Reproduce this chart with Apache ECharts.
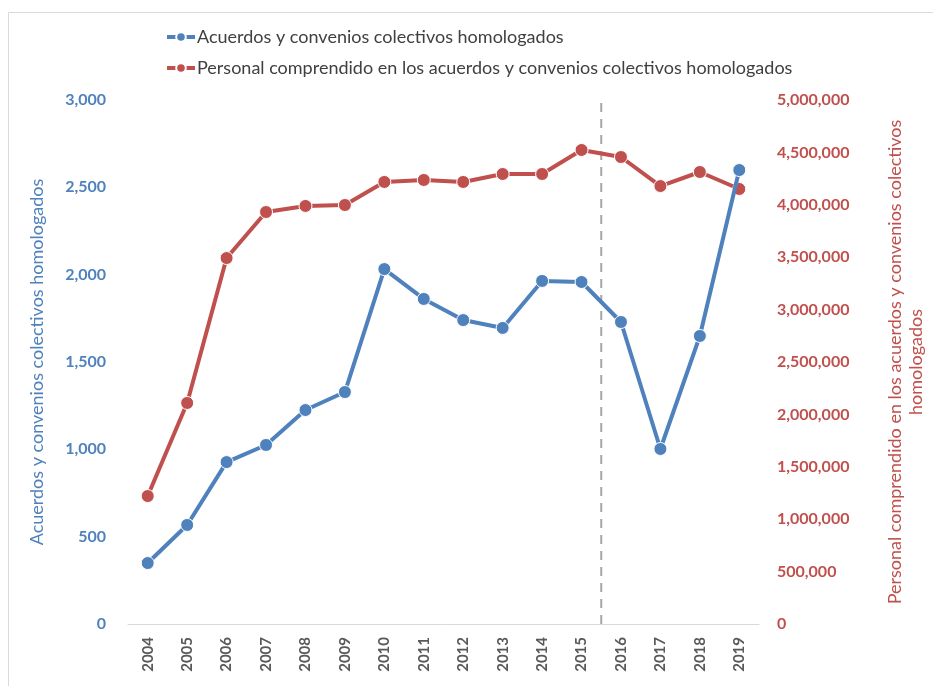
<!DOCTYPE html>
<html>
<head>
<meta charset="utf-8">
<script src="https://cdn.jsdelivr.net/npm/echarts@6/dist/echarts.min.js"></script>
<style>html,body{margin:0;padding:0;background:#fff;overflow:hidden;}#c{width:933px;height:686px;}</style>
</head>
<body>
<div id="c"></div>
<script>
const years = ['2004','2005','2006','2007','2008','2009','2010','2011','2012','2013','2014','2015','2016','2017','2018','2019'];
const acuerdos = [349, 567, 927, 1025, 1225, 1328, 2032, 1861, 1740, 1695, 1964, 1958, 1729, 1002, 1649, 2599];
const personal = [1221000, 2109000, 3492000, 3931000, 3989000, 3998000, 4218000, 4237000, 4218000, 4294000, 4294000, 4523000, 4456000, 4179000, 4313000, 4151000];
const leftTicks = [0, 500, 1000, 1500, 2000, 2500, 3000];
const rightTicks = [0, 500000, 1000000, 1500000, 2000000, 2500000, 3000000, 3500000, 4000000, 4500000, 5000000];
const dividerPos = 11.5; // between 2015 and 2016
const nameA = 'Acuerdos y convenios colectivos homologados';
const nameP = 'Personal comprendido en los acuerdos y convenios colectivos homologados';

const BLUE = '#4F81BD', RED = '#C0504D';
const FONT = 'Lato';
const fmt = v => v.toLocaleString('en-US');

const chart = echarts.init(document.getElementById('c'), null, {renderer: 'canvas'});
chart.setOption({
  backgroundColor: '#fff',
  animation: false,
  textStyle: {fontFamily: FONT},
  graphic: [
    {type: 'line', shape: {x1: 8.5, y1: 12.5, x2: 8.5, y2: 686}, style: {stroke: '#D9D9D9', lineWidth: 1}},
    {type: 'line', shape: {x1: 8.5, y1: 12.5, x2: 933, y2: 12.5}, style: {stroke: '#D9D9D9', lineWidth: 1}}
  ],
  legend: {
    orient: 'vertical',
    left: 160,
    top: 23,
    itemGap: 13,
    itemWidth: 28,
    itemHeight: 12,
    lineStyle: {width: 4},
    textStyle: {color: '#404040', fontSize: 18, fontFamily: FONT, padding: [0, 0, 0, -3]},
    data: [nameA, nameP]
  },
  grid: {left: 128, right: 174, top: 100, bottom: 62, containLabel: false, outerBoundsMode: 'none'},
  xAxis: [
    {
      type: 'category',
      data: years,
      boundaryGap: true,
      axisLine: {lineStyle: {color: '#D9D9D9', width: 1}},
      axisTick: {show: false},
      axisLabel: {rotate: 90, color: '#595959', fontSize: 15, fontWeight: 'bold', margin: 13, fontFamily: FONT}
    },
    {
      type: 'value', min: -0.5, max: years.length - 0.5, show: false
    }
  ],
  yAxis: [
    {
      type: 'value', min: leftTicks[0], max: leftTicks[leftTicks.length - 1], interval: 500,
      position: 'left',
      splitLine: {show: false},
      axisLine: {show: false}, axisTick: {show: false},
      axisLabel: {color: BLUE, fontSize: 16, fontWeight: 'bold', margin: 22, formatter: fmt, fontFamily: FONT},
      name: nameA, nameLocation: 'middle', nameRotate: 90, nameGap: 82,
      nameTextStyle: {color: BLUE, fontSize: 18, fontFamily: FONT}
    },
    {
      type: 'value', min: rightTicks[0], max: rightTicks[rightTicks.length - 1], interval: 500000,
      position: 'right',
      splitLine: {show: false},
      axisLine: {show: false}, axisTick: {show: false},
      axisLabel: {color: RED, fontSize: 16, fontWeight: 'bold', margin: 18, formatter: fmt, fontFamily: FONT},
      name: 'Personal comprendido en los acuerdos y convenios colectivos\nhomologados',
      nameLocation: 'middle', nameRotate: 90, nameGap: 126,
      nameTextStyle: {color: RED, fontSize: 18, fontFamily: FONT, lineHeight: 21, align: 'center'}
    }
  ],
  series: [
    {
      name: 'divider', type: 'line', xAxisIndex: 1, yAxisIndex: 0,
      data: [[dividerPos, 0], [dividerPos, leftTicks[leftTicks.length - 1]]],
      symbol: 'none', silent: true,
      lineStyle: {color: '#A6A6A6', width: 2, type: [9, 7]},
      z: 1
    },
    {
      name: nameA, type: 'line', xAxisIndex: 0, yAxisIndex: 0, data: acuerdos,
      symbol: 'circle', symbolSize: 13,
      itemStyle: {color: BLUE, borderColor: '#fff', borderWidth: 1},
      lineStyle: {color: BLUE, width: 4},
      z: 3
    },
    {
      name: nameP, type: 'line', xAxisIndex: 0, yAxisIndex: 1, data: personal,
      symbol: 'circle', symbolSize: 13,
      itemStyle: {color: RED, borderColor: '#fff', borderWidth: 1},
      lineStyle: {color: RED, width: 4},
      z: 2
    }
  ]
});
</script>
</body>
</html>
